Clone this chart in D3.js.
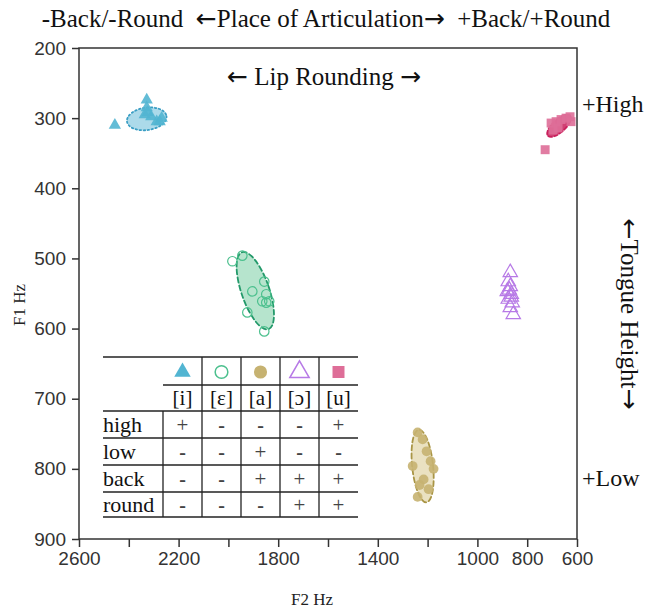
<!DOCTYPE html>
<html>
<head>
<meta charset="utf-8">
<script src="https://cdn.jsdelivr.net/npm/d3@7"></script>
<style>
  body { margin: 0; background: #fff; }
  svg { display: block; }
  text { white-space: pre; }
</style>
</head>
<body>
<svg id="chart"></svg>
<script>
// tick values
const f2Ticks = [2600, 2400, 2200, 2000, 1800, 1600, 1400, 1200, 1000, 800, 600];
const f2Labels = [2600, 2200, 1800, 1400, 1000, 800, 600];
const f1Ticks = [200, 300, 400, 500, 600, 700, 800, 900];

// vowel tokens, [F2, F1]
const iPoints = [[2456, 310], [2328, 274], [2328, 285], [2336, 295], [2324, 292], [2288, 305], [2276, 305], [2268, 300], [2310, 298]];
const ePoints = [[1984, 504], [1944, 496], [1904, 547], [1856, 533], [1848, 551], [1864, 561], [1848, 563], [1836, 561], [1924, 577], [1856, 604]];
const aPoints = [[1240, 748], [1220, 758], [1204, 775], [1188, 789], [1260, 796], [1176, 800], [1216, 815], [1232, 823], [1196, 829], [1240, 840]];
const oPoints = [[868, 520], [876, 533], [868, 540], [880, 547], [864, 551], [876, 558], [860, 563], [868, 570], [856, 580], [872, 545], [864, 555]];
const uPoints = [[704, 307], [684, 305], [664, 302], [644, 300], [628, 298], [624, 305], [728, 345], [696, 317], [676, 314]];

// ellipses: center F2, center F1, half width (Hz F2), half height (Hz F1), tilt deg
const iEllipse = [2328, 301, 80, 16, -8];
const eEllipse = [1892, 546, 56, 58, -19];
const aEllipse = [1220, 796, 42, 52, -6];
const uEllipse = [672, 311, 60, 9, -42];

// legend table
const vowels = ["[i]", "[ɛ]", "[a]", "[ɔ]", "[u]"];
const features = ["high", "low", "back", "round"];
const featureValues = [
  ["+", "-", "-", "-", "+"],
  ["-", "-", "+", "-", "-"],
  ["-", "-", "+", "+", "+"],
  ["-", "-", "-", "+", "+"]
];

const W = 651, H = 608;
const margin = {top: 48, right: 74, bottom: 69, left: 79},
      width = W - margin.left - margin.right,
      height = H - margin.top - margin.bottom;

const svg = d3.select("#chart").attr("width", W).attr("height", H);
const g = svg.append("g").attr("transform", `translate(${margin.left},${margin.top})`);

const x = d3.scaleLinear().domain([2600, 600]).range([0, width]);
const y = d3.scaleLinear().domain([200, 900]).range([0, height]);

const serif = "'Liberation Serif', 'Times New Roman', serif";
const sans = "'Liberation Sans', Arial, sans-serif";
const arrowFont = "'DejaVu Sans', sans-serif";

const series = [
  {pts: iPoints, ell: iEllipse, sym: d3.symbolTriangle, size: 65, fill: "#52b5d2", stroke: "none",
   ellFill: "#9dd3e6", ellStroke: "#3a9ec4", dash: "1.5,2.5"},
  {pts: ePoints, ell: eEllipse, sym: d3.symbolCircle, size: 70, fill: "none", stroke: "#4cc08e",
   ellFill: "#a9dfc4", ellStroke: "#23996a", dash: "5,3"},
  {pts: aPoints, ell: aEllipse, sym: d3.symbolCircle, size: 75, fill: "#c6b271", stroke: "none",
   ellFill: "#e6dcb6", ellStroke: "#a99545", dash: "5,3"},
  {pts: oPoints, ell: null, sym: d3.symbolTriangle, size: 90, fill: "none", stroke: "#b77ae6"},
  {pts: uPoints, ell: uEllipse, sym: d3.symbolSquare, size: 80, fill: "#de6e98", stroke: "none",
   ellFill: "#c91f5c", ellStroke: "#c91f5c", dash: "4,2"}
];

// ellipses
series.filter(s => s.ell).forEach(s => {
  const [cx, cy, rx, ry, ang] = s.ell;
  g.append("ellipse")
    .attr("transform", `translate(${x(cx)},${y(cy)}) rotate(${ang})`)
    .attr("rx", Math.abs(x(cx + rx) - x(cx)))
    .attr("ry", Math.abs(y(cy + ry) - y(cy)))
    .attr("fill", s.ellFill)
    .attr("fill-opacity", 0.85)
    .attr("stroke", s.ellStroke)
    .attr("stroke-width", 1.8)
    .attr("stroke-dasharray", s.dash)
    .attr("stroke-linecap", "round");
});

// points
series.forEach(s => {
  g.append("g").selectAll("path")
    .data(s.pts)
    .join("path")
    .attr("transform", d => `translate(${x(d[0])},${y(d[1])})`)
    .attr("d", d3.symbol().type(s.sym).size(s.size))
    .attr("fill", s.fill)
    .attr("fill-opacity", 0.9)
    .attr("stroke", s.stroke)
    .attr("stroke-width", 1.2);
});

// axes
const yAxis = g.append("g")
  .call(d3.axisLeft(y).tickValues(f1Ticks).tickSize(7).tickPadding(6));
const xAxis = g.append("g")
  .attr("transform", `translate(0,${height})`)
  .call(d3.axisBottom(x).tickValues(f2Ticks).tickSize(8).tickPadding(5)
    .tickFormat(d => f2Labels.includes(d) ? d : ""));
[xAxis, yAxis].forEach(a => {
  a.select(".domain").remove();
  a.selectAll("line").attr("stroke", "#333").attr("stroke-width", 1.5);
  a.selectAll("text").style("font-family", sans).style("font-size", "19px").attr("fill", "#333");
});

g.append("rect")
  .attr("width", width).attr("height", height)
  .attr("fill", "none").attr("stroke", "#333").attr("stroke-width", 1.5);

// text helper: plain words in serif, arrows in a font with wide arrows
function arrowText(sel, parts, size) {
  parts.forEach(p => {
    sel.append("tspan")
      .style("font-family", p === "←" || p === "→" ? arrowFont : serif)
      .style("font-size", size + "px")
      .text(p);
  });
  return sel;
}

// annotations
svg.append("text")
  .attr("x", 326).attr("y", 27)
  .attr("text-anchor", "middle").attr("fill", "#111")
  .call(arrowText, ["-Back/-Round  ", "←", "Place of Articulation", "→", "  +Back/+Round"], 25);

g.append("text")
  .attr("x", width / 2 - 4).attr("y", 37)
  .attr("text-anchor", "middle").attr("fill", "#111")
  .call(arrowText, ["←", " Lip Rounding ", "→"], 25);

g.append("text")
  .attr("x", width + 5).attr("y", 64)
  .style("font-family", serif).style("font-size", "24px").attr("fill", "#111")
  .text("+High");

g.append("text")
  .attr("x", width + 5).attr("y", 438)
  .style("font-family", serif).style("font-size", "24px").attr("fill", "#111")
  .text("+Low");

svg.append("text")
  .attr("transform", `translate(621,${margin.top + 266}) rotate(90)`)
  .attr("text-anchor", "middle").attr("fill", "#111")
  .call(arrowText, ["←", "Tongue Height", "→"], 25);

svg.append("text")
  .attr("transform", `translate(25,305) rotate(-90)`)
  .attr("text-anchor", "middle")
  .style("font-family", serif).style("font-size", "17px").attr("fill", "#222")
  .text("F1 Hz");

svg.append("text")
  .attr("x", 312).attr("y", 605)
  .attr("text-anchor", "middle")
  .style("font-family", serif).style("font-size", "17px").attr("fill", "#222")
  .text("F2 Hz");

// feature table
const tLeft = 103, tRight = 358, tCol0 = 163;
const rowY = [357, 385, 411, 438, 465, 492, 517];
const col = d3.scaleBand().domain(vowels).range([tCol0, tRight]);
const tbl = svg.append("g");
const lineStyle = sel => sel.attr("stroke", "#222").attr("stroke-width", 1.3);

tbl.append("line").attr("x1", tLeft).attr("x2", tRight).attr("y1", rowY[0]).attr("y2", rowY[0]).call(lineStyle);
tbl.append("line").attr("x1", tCol0).attr("x2", tRight).attr("y1", rowY[1]).attr("y2", rowY[1]).call(lineStyle);
rowY.slice(2).forEach(ry => {
  tbl.append("line").attr("x1", tLeft).attr("x2", tRight).attr("y1", ry).attr("y2", ry).call(lineStyle);
});
tbl.append("line").attr("x1", tCol0).attr("x2", tCol0).attr("y1", rowY[2]).attr("y2", rowY[6]).call(lineStyle);
vowels.slice(1).forEach(v => {
  tbl.append("line").attr("x1", col(v)).attr("x2", col(v)).attr("y1", rowY[0]).attr("y2", rowY[6]).call(lineStyle);
});

// legend symbols
vowels.forEach((v, i) => {
  const s = series[i];
  tbl.append("path")
    .attr("transform", `translate(${col(v) + col.bandwidth() / 2},${(rowY[0] + rowY[1]) / 2 + 1})`)
    .attr("d", d3.symbol().type(s.sym).size(s.size * 1.8))
    .attr("fill", s.fill)
    .attr("stroke", s.stroke)
    .attr("stroke-width", 1.5);
  tbl.append("text")
    .attr("x", col(v) + col.bandwidth() / 2).attr("y", rowY[2] - 6)
    .attr("text-anchor", "middle")
    .style("font-family", serif).style("font-size", "21px").attr("fill", "#111")
    .text(v);
});

features.forEach((f, r) => {
  const yMid = (rowY[r + 2] + rowY[r + 3]) / 2;
  tbl.append("text")
    .attr("x", tLeft).attr("y", yMid + 7)
    .style("font-family", serif).style("font-size", "22px").attr("fill", "#111")
    .text(f);
  featureValues[r].forEach((val, c) => {
    tbl.append("text")
      .attr("x", col(vowels[c]) + col.bandwidth() / 2).attr("y", yMid + 7)
      .attr("text-anchor", "middle")
      .style("font-family", serif)
      .style("font-size", val === "+" ? "21px" : "20px")
      .style("font-weight", val === "-" ? "bold" : "normal")
      .attr("fill", "#444")
      .text(val);
  });
});
</script>
</body>
</html>
